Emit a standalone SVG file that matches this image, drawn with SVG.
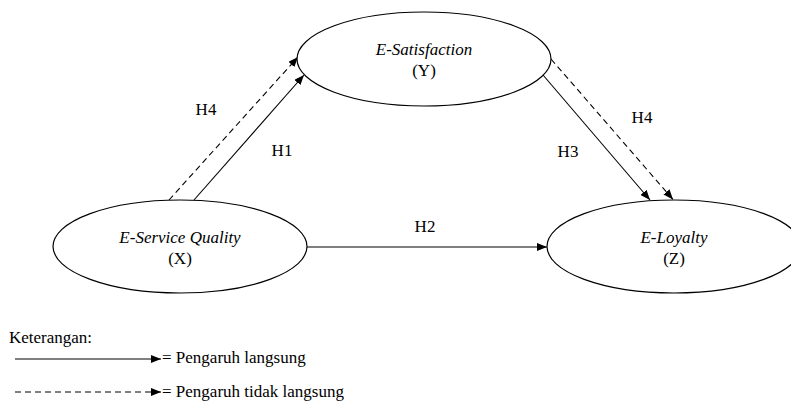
<svg xmlns="http://www.w3.org/2000/svg" width="791" height="402" viewBox="0 0 791 402">
<defs>
<marker id="ah" viewBox="0 0 10 8" refX="10" refY="4" markerWidth="10" markerHeight="8" markerUnits="userSpaceOnUse" orient="auto">
<path d="M0,0 L10,4 L0,8 Z" fill="#000"/>
</marker>
</defs>
<style>
.node{fill:#fff;stroke:#000;stroke-width:1.2}
.t{font-size:17px;fill:#000}
.i{font-style:italic}
.c{text-anchor:middle}
.l{stroke:#000;stroke-width:1.1;fill:none;marker-end:url(#ah)}
.d{stroke-dasharray:6,4}
</style>
<rect width="791" height="402" fill="#fff"/>
<g font-family="Liberation Serif, Times New Roman, serif">
<g id="connectors">
<line class="l" x1="194" y1="200" x2="304" y2="75"/>
<line class="l d" x1="169" y1="200" x2="298" y2="57"/>
<line class="l" x1="543" y1="75" x2="650" y2="200"/>
<line class="l d" x1="551" y1="59" x2="673" y2="199.5"/>
<line class="l" x1="307" y1="247" x2="547" y2="247"/>
<text class="t c" x="206" y="115">H4</text>
<text class="t c" x="282" y="156">H1</text>
<text class="t c" x="568" y="157">H3</text>
<text class="t c" x="642" y="123">H4</text>
<text class="t c" x="425" y="232">H2</text>
</g>
<g id="nodeY">
<ellipse class="node" cx="424" cy="59" rx="127" ry="47"/>
<text class="t c i" x="424" y="55">E-Satisfaction</text>
<text class="t c" x="424" y="76">(Y)</text>
</g>
<g id="nodeX">
<ellipse class="node" cx="180" cy="246.5" rx="127" ry="46.5"/>
<text class="t c i" x="180" y="243">E-Service Quality</text>
<text class="t c" x="180" y="264">(X)</text>
</g>
<g id="nodeZ">
<ellipse class="node" cx="674" cy="246.5" rx="127" ry="46.5"/>
<text class="t c i" x="674" y="243">E-Loyalty</text>
<text class="t c" x="674" y="264">(Z)</text>
</g>
<g id="legend">
<text class="t" x="9" y="343">Keterangan:</text>
<line class="l" x1="15" y1="359" x2="161" y2="359"/>
<text class="t" x="162" y="363">= Pengaruh langsung</text>
<line class="l d" x1="15" y1="392" x2="161" y2="392"/>
<text class="t" x="162" y="397">= Pengaruh tidak langsung</text>
</g>
</g>
</svg>
